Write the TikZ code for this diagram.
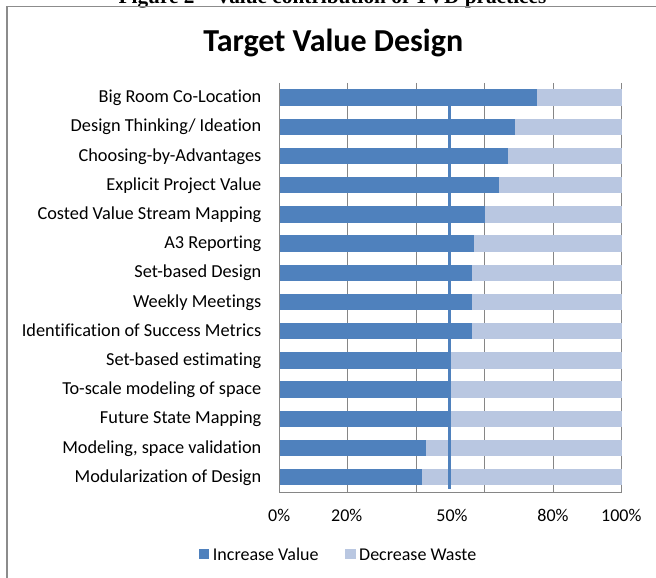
\documentclass[tikz,border=0pt]{standalone}
\usepackage{fontspec}
\setmainfont[Ligatures=CommonOff]{Carlito}
\newfontfamily\capfont{Liberation Serif}
\definecolor{valblue}{HTML}{4F81BD}
\definecolor{wasteblue}{HTML}{B9C7E1}
\definecolor{gridgray}{HTML}{868686}
\definecolor{framegray}{HTML}{8C8C8C}
\begin{document}
\begin{tikzpicture}[x=1pt,y=-1pt,
  catlabel/.style={anchor=base east, inner sep=0pt, font=\fontsize{18.3}{20}\selectfont},
  ticklabel/.style={anchor=base, inner sep=0pt, font=\fontsize{18}{20}\selectfont},
  legtext/.style={anchor=base west, inner sep=0pt, font=\fontsize{18}{20}\selectfont},
  legsq/.style={anchor=north west, inner sep=0pt, minimum size=10.7pt},
  gridline/.style={draw=gridgray, line width=0.9pt},
  halfline/.style={draw=valblue, line width=2.2pt}]
\useasboundingbox (0,0) rectangle (656,578);
% caption (cut off at the top)
\node[anchor=base, inner sep=0pt, font=\capfont\bfseries\fontsize{21.3}{23}\selectfont] (cap) at (332.5,3.5) {Figure 2 – Value contribution of TVD practices};
% chart frame
\draw[framegray, line width=1.2pt] (7,700) -- (7,6.5) -- (700,6.5);
% title
\node[anchor=base, inner sep=0pt, font=\bfseries\fontsize{32}{34}\selectfont] (title) at (333.3,51.7) {Target Value Design};
% grid
\foreach \k in {1,...,5} {
  \draw[gridline] (279+68.54*\k,83) -- (279+68.54*\k,492);
}
% bars
\foreach \lab/\val [count=\i] in {
  {Big Room Co-Location}/75.2,
  {Design Thinking/ Ideation}/68.8,
  {Choosing-by-Advantages}/66.7,
  {Explicit Project Value}/64.2,
  {Costed Value Stream Mapping}/60.0,
  {A3 Reporting}/57.0,
  {Set-based Design}/56.3,
  {Weekly Meetings}/56.3,
  {Identification of Success Metrics\hspace{4pt}}/56.3,
  {Set-based estimating}/50,
  {To-scale modeling of space\hspace{4pt}}/50,
  {Future State Mapping}/50,
  {Modeling, space validation}/42.8,
  {Modularization of Design}/41.8} {
  \pgfmathsetmacro\yy{83+29.2*(\i-0.5)}
  \pgfmathsetmacro\xe{279+3.427*\val}
  \fill[valblue] (279,\yy-8.15) rectangle (\xe,\yy+8.15);
  \fill[wasteblue] (\xe,\yy-8.15) rectangle (621.7,\yy+8.15);
  \node[catlabel] (cat\i) at (261.5,\yy+5.1) {\lab};
}
% axes
\draw[gridline] (279,83) -- (279,492) -- (621.7,492);
% 50% marker line
\draw[halfline] (449.5,89) -- (449.5,489);
% tick labels
\node[ticklabel] (t0) at (279.2,521.5) {0\%};
\node[ticklabel] (t20) at (346.7,521.5) {20\%};
\node[ticklabel] (t50) at (452,521.5) {50\%};
\node[ticklabel] (t80) at (553,521.5) {80\%};
\node[ticklabel] (t100) at (621.3,521.5) {100\%};
% legend
\node[legsq, fill=valblue] (sqv) at (198.3,548.3) {};
\node[legtext] (lv) at (212.7,560) {Increase Value};
\node[legsq, fill=wasteblue] (sqw) at (345,548.3) {};
\node[legtext] (lw) at (359,560) {Decrease Waste};
\end{tikzpicture}
\end{document}
